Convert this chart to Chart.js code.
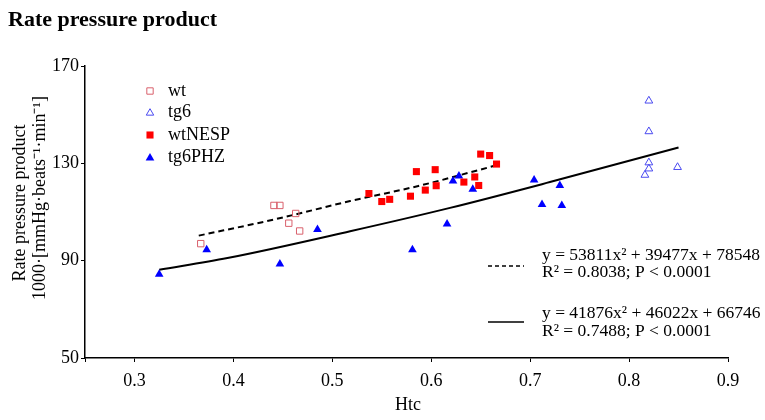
<!DOCTYPE html>
<html><head><meta charset="utf-8">
<script src="https://cdn.jsdelivr.net/npm/chart.js@4.4.1/dist/chart.umd.min.js"></script>
<style>html,body{margin:0;padding:0;background:#fff;overflow:hidden}</style>
</head><body>
<canvas id="c" width="765" height="420"></canvas>
<script>
// ---- data ----
const chartTitle = 'Rate pressure product';
const xTitle = 'Htc';
const yTitle = ['Rate pressure product', '1000·[mmHg·beats⁻¹·min⁻¹]'];
const xMin = 0.25, xMax = 0.9;
const yMin = 50, yMax = 170;
const xTicks = [0.3, 0.4, 0.5, 0.6, 0.7, 0.8, 0.9];
const yTicks = [50, 90, 130, 170];
const seriesNames = ['wt', 'tg6', 'wtNESP', 'tg6PHZ'];

const wtX = [0.367, 0.441, 0.447, 0.463, 0.456, 0.467];
const wtY = [97.0, 112.7, 112.7, 109.4, 105.4, 102.2];

const tg6X = [0.820, 0.820, 0.820, 0.820, 0.816, 0.849];
const tg6Y = [155.7, 143.1, 130.3, 127.8, 125.2, 128.4];

const wtNespX = [0.537, 0.550, 0.558, 0.579, 0.585, 0.594, 0.604, 0.605, 0.633, 0.644, 0.648, 0.650, 0.659, 0.666];
const wtNespY = [117.6, 114.3, 115.2, 116.5, 126.6, 119.0, 127.4, 120.8, 122.3, 124.4, 120.9, 133.8, 133.2, 129.7];

const tg6PhzX = [0.325, 0.373, 0.447, 0.485, 0.581, 0.616, 0.622, 0.628, 0.642, 0.704, 0.712, 0.730, 0.732];
const tg6PhzY = [84.4, 94.5, 88.6, 102.8, 94.5, 105.1, 122.7, 124.8, 119.3, 123.1, 113.1, 120.9, 112.7];

// regression curves
const fitWtX = [0.365, 0.441, 0.518, 0.586, 0.666];
const fitWtY = [100.3, 106.9, 114.5, 120.6, 129.2];
const fitTgX = [0.325, 0.394, 0.518, 0.619, 0.720, 0.850];
const fitTgY = [86.3, 91.1, 102.1, 111.7, 122.3, 136.5];

const fitLabels = [
  ['y = 53811x² + 39477x + 78548', 'R² = 0.8038; P < 0.0001'],
  ['y = 41876x² + 46022x + 66746', 'R² = 0.7488; P < 0.0001']
];

// ---- build ----
const pts = (xs, ys) => xs.map((x, i) => ({x: x, y: ys[i]}));
const SERIF = '"Liberation Serif", "Times New Roman", serif';
const C_WT = '#d9606c', C_TG6 = '#4a4af0', C_NESP = '#ff0000', C_PHZ = '#0000ff';

function marker(ctx, style, x, y, r, stroke, fill) {
  ctx.save();
  ctx.beginPath();
  if (style === 'rect') {
    const s = r * Math.SQRT1_2;
    ctx.rect(x - s, y - s, 2 * s, 2 * s);
  } else {
    const a = 2 * Math.PI / 3;
    ctx.moveTo(x, y - r);
    ctx.lineTo(x + Math.sin(a) * r, y - Math.cos(a) * r);
    ctx.lineTo(x + Math.sin(2 * a) * r, y - Math.cos(2 * a) * r);
    ctx.closePath();
  }
  if (fill) { ctx.fillStyle = fill; ctx.fill(); }
  if (stroke) { ctx.strokeStyle = stroke; ctx.lineWidth = 1; ctx.stroke(); }
  ctx.restore();
}

const textPlugin = {
  id: 'texts',
  afterDraw(chart) {
    const ctx = chart.ctx;
    ctx.save();
    ctx.fillStyle = '#000';
    ctx.textBaseline = 'middle';
    ctx.textAlign = 'left';
    ctx.font = 'bold 22px ' + SERIF;
    ctx.fillText(chartTitle, 8, 20);

    ctx.font = '18px ' + SERIF;
    ctx.textAlign = 'center';
    ctx.fillText(xTitle, 408, 405);

    ctx.save();
    ctx.translate(20, 203);
    ctx.rotate(-Math.PI / 2);
    ctx.fillText(yTitle[0], 0, 0);
    ctx.restore();
    ctx.save();
    ctx.translate(40, 198);
    ctx.rotate(-Math.PI / 2);
    ctx.fillText(yTitle[1], 0, 0);
    ctx.restore();

    // marker legend
    ctx.textAlign = 'left';
    const ly = [91, 112, 135, 157];
    marker(ctx, 'rect', 150, ly[0], 4.5, C_WT, null);
    marker(ctx, 'triangle', 150, ly[1] + 1, 4.3, C_TG6, null);
    marker(ctx, 'rect', 150, ly[2], 5, null, C_NESP);
    marker(ctx, 'triangle', 150, ly[3] + 1, 5, null, C_PHZ);
    seriesNames.forEach((n, i) => ctx.fillText(n, 168, ly[i]));

    // regression legend
    ctx.strokeStyle = '#000';
    ctx.lineWidth = 1.5;
    ctx.setLineDash([4, 3]);
    ctx.beginPath(); ctx.moveTo(488, 266); ctx.lineTo(524, 266); ctx.stroke();
    ctx.setLineDash([]);
    ctx.beginPath(); ctx.moveTo(488, 322); ctx.lineTo(524, 322); ctx.stroke();
    ctx.font = '17.5px ' + SERIF;
    ctx.fillText(fitLabels[0][0], 542, 255);
    ctx.fillText(fitLabels[0][1], 542, 272);
    ctx.fillText(fitLabels[1][0], 542, 313);
    ctx.fillText(fitLabels[1][1], 542, 331);
    ctx.restore();
  }
};

new Chart(document.getElementById('c'), {
  type: 'scatter',
  data: {
    datasets: [
      {label: seriesNames[0], data: pts(wtX, wtY), pointStyle: 'rect', pointRadius: 4.5,
       borderColor: C_WT, backgroundColor: 'rgba(255,255,255,0)', borderWidth: 1},
      {label: seriesNames[1], data: pts(tg6X, tg6Y), pointStyle: 'triangle', pointRadius: 4.5,
       borderColor: C_TG6, backgroundColor: 'rgba(255,255,255,0)', borderWidth: 1},
      {label: seriesNames[2], data: pts(wtNespX, wtNespY), pointStyle: 'rect', pointRadius: 5,
       borderColor: C_NESP, backgroundColor: C_NESP, borderWidth: 0},
      {label: seriesNames[3], data: pts(tg6PhzX, tg6PhzY), pointStyle: 'triangle', pointRadius: 5,
       borderColor: C_PHZ, backgroundColor: C_PHZ, borderWidth: 0},
      {label: 'fit wt', data: pts(fitWtX, fitWtY), showLine: true, pointRadius: 0,
       borderColor: '#000', borderWidth: 2, borderDash: [6, 4], cubicInterpolationMode: 'monotone', fill: false},
      {label: 'fit tg6', data: pts(fitTgX, fitTgY), showLine: true, pointRadius: 0,
       borderColor: '#000', borderWidth: 2, cubicInterpolationMode: 'monotone', fill: false}
    ]
  },
  options: {
    responsive: false,
    animation: false,
    events: [],
    layout: {padding: {left: 0, right: 37, top: 66, bottom: 0}},
    plugins: {legend: {display: false}, tooltip: {enabled: false}, title: {display: false}},
    scales: {
      x: {
        type: 'linear', min: xMin, max: xMax,
        afterBuildTicks: s => { s.ticks = [xMin].concat(xTicks).map(v => ({value: v})); },
        afterFit: s => { s.height = 62; },
        grid: {display: true, drawOnChartArea: false, drawTicks: true, tickLength: 4, color: '#000', lineWidth: 1},
        border: {display: true, color: '#000', width: 1.5},
        ticks: {color: '#000', font: {family: SERIF, size: 18}, padding: 8, maxRotation: 0, autoSkip: false,
                callback: v => (xTicks.indexOf(v) >= 0 ? v.toFixed(1) : '')}
      },
      y: {
        type: 'linear', min: yMin, max: yMax,
        afterBuildTicks: s => { s.ticks = yTicks.map(v => ({value: v})); },
        afterFit: s => { s.width = 85; },
        grid: {display: true, drawOnChartArea: false, drawTicks: true, tickLength: 4, color: '#000', lineWidth: 1},
        border: {display: true, color: '#000', width: 1.5},
        ticks: {color: '#000', font: {family: SERIF, size: 18}, padding: 2, autoSkip: false,
                callback: v => String(v)}
      }
    }
  },
  plugins: [textPlugin]
});
</script>
</body></html>
